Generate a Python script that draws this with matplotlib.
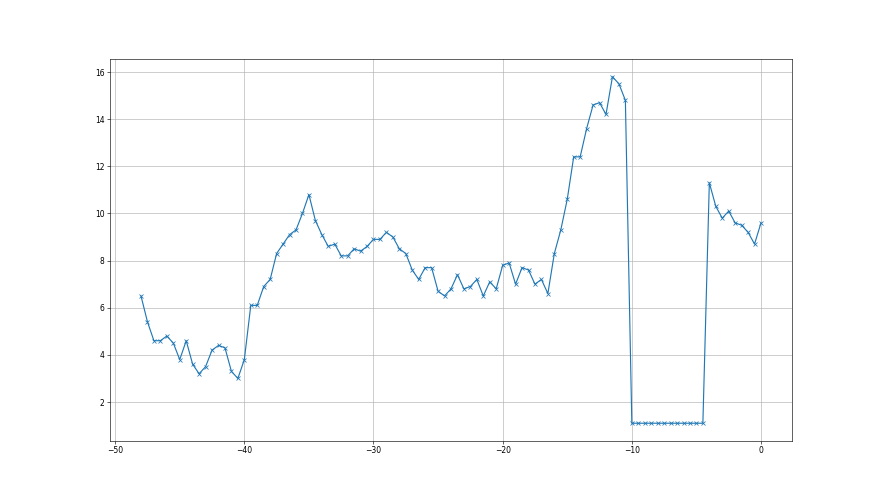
import matplotlib
matplotlib.use('Agg')
import matplotlib.pyplot as plt
import numpy as np

# values, x runs -48 .. 0 in steps of 0.5
x_start = -48.
x_step = 0.5

vals_early = [6.5, 5.4, 4.6, 4.6, 4.8, 4.5, 3.8, 4.6, 3.6, 3.2,
              3.5, 4.2, 4.4, 4.3, 3.3, 3.0, 3.8, 6.1, 6.1, 6.9,
              7.2, 8.3, 8.7, 9.1, 9.3, 10.0, 10.8, 9.7, 9.1, 8.6,
              8.7, 8.2, 8.2, 8.5, 8.4, 8.6, 8.9, 8.9, 9.2, 9.0,
              8.5, 8.3, 7.6, 7.2, 7.7, 7.7, 6.7, 6.5, 6.8, 7.4,
              6.8, 6.9, 7.2, 6.5, 7.1, 6.8, 7.8, 7.9, 7.0, 7.7,
              7.6, 7.0, 7.2, 6.6, 8.3, 9.3, 10.6, 12.4, 12.4, 13.6,
              14.6, 14.7, 14.2, 15.8, 15.5, 14.8]
vals_flat = [1.1]*12
vals_late = [11.3, 10.3, 9.8, 10.1, 9.6, 9.5, 9.2, 8.7, 9.6]

y = np.array(vals_early + vals_flat + vals_late)
x = x_start + x_step*np.arange(len(y))

fig = plt.figure(figsize=(16, 9), dpi=55)
plt.plot(x, y, 'x-')
plt.grid(True)
plt.savefig('out.png', dpi=55)
plt.close()
